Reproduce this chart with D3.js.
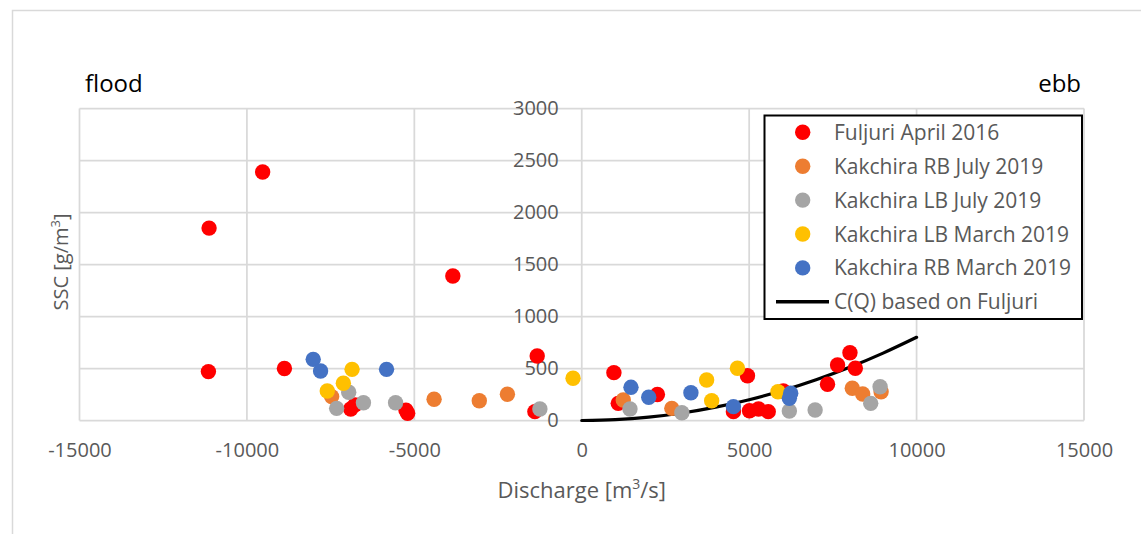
<!DOCTYPE html>
<html>
<head>
<meta charset="utf-8">
<script src="https://cdn.jsdelivr.net/npm/d3@7"></script>
<style>
  html, body { margin: 0; padding: 0; background: #fff; }
  svg { display: block; font-family: "Open Sans", "Noto Sans", sans-serif; }
</style>
</head>
<body>
<svg id="chart" width="1141" height="534"></svg>
<script>
// Discharge [m3/s] and SSC [g/m3] per campaign
const fuljuriQ   = [-11150, -11130, -9530, -8880, -6900, -6770, -5250, -5200, -3850, -1330, -1400, 960, 1090, 2260, 4530, 4950, 5010, 5280, 5570, 6020, 7340, 7640, 8010, 8170];
const fuljuriC   = [470, 1850, 2390, 500, 110, 150, 100, 70, 1390, 620, 85, 460, 165, 250, 85, 430, 94, 111, 85, 284, 348, 534, 652, 502];
const rbJulyQ    = [-7470, -4410, -3060, -2220, 1240, 2690, 8080, 8390, 8940];
const rbJulyC    = [230, 204, 190, 252, 197, 117, 310, 255, 277];
const lbJulyQ    = [-7320, -6960, -6520, -5560, -1250, 1440, 2990, 6200, 6970, 8630, 8910];
const lbJulyC    = [117, 271, 171, 171, 111, 111, 75, 91, 101, 165, 325];
const lbMarchQ   = [-7600, -7120, -6860, -260, 3730, 3880, 4650, 5860];
const lbMarchC   = [284, 358, 492, 406, 389, 190, 502, 277];
const rbMarchQ   = [-8020, -7800, -5830, 1470, 2000, 3260, 4530, 6240, 6200];
const rbMarchC   = [588, 476, 492, 319, 223, 267, 133, 262, 213];

// C(Q) rating curve based on Fuljuri
const curveQ = [0, 1000, 2000, 3000, 4000, 5000, 6000, 7000, 8000, 9000, 10000];
const curveC = [0, 8, 32, 72, 128, 200, 288, 392, 512, 648, 800];

// Axis ticks
const xTicks = [-15000, -10000, -5000, 0, 5000, 10000, 15000];
const yTicks = [0, 500, 1000, 1500, 2000, 2500, 3000];

const seriesNames  = ["Fuljuri April 2016", "Kakchira RB July 2019", "Kakchira LB July 2019", "Kakchira LB March 2019", "Kakchira RB March 2019"];
const seriesColors = ["#FF0000", "#ED7D31", "#A5A5A5", "#FFC000", "#4472C4"];
const curveName = "C(Q) based on Fuljuri";

const series = [
  [fuljuriQ, fuljuriC],
  [rbJulyQ, rbJulyC],
  [lbJulyQ, lbJulyC],
  [lbMarchQ, lbMarchC],
  [rbMarchQ, rbMarchC]
].map((s, i) => ({
  name: seriesNames[i],
  color: seriesColors[i],
  points: s[0].map((q, j) => ({ q, c: s[1][j] }))
}));

const svg = d3.select("#chart");
const x = d3.scaleLinear().domain([-15000, 15000]).range([79.5, 1084]);
const y = d3.scaleLinear().domain([0, 3000]).range([420.5, 108.5]);

const axisGrey = "#595959";
const gridGrey = "#d9d9d9";
// plain hyphen for negative numbers
const fmt = d => String(d);

// outer chart frame
svg.append("rect")
  .attr("x", 12.5).attr("y", 10.5)
  .attr("width", 1300).attr("height", 700)
  .attr("fill", "#fff").attr("stroke", gridGrey).attr("stroke-width", 1.5);

// gridlines
const grid = svg.append("g");
grid.selectAll("line.h").data(yTicks).join("line")
  .attr("x1", x(-15000)).attr("x2", x(15000))
  .attr("y1", d => y(d)).attr("y2", d => y(d))
  .attr("stroke", gridGrey).attr("stroke-width", 1.75);
grid.selectAll("line.v").data(xTicks).join("line")
  .attr("y1", y(0)).attr("y2", y(3000))
  .attr("x1", d => x(d)).attr("x2", d => x(d))
  .attr("stroke", gridGrey).attr("stroke-width", 1.75);

// x axis labels
const xAxis = d3.axisBottom(x).tickValues(xTicks).tickSize(0).tickPadding(0).tickFormat(fmt);
const gx = svg.append("g").attr("transform", `translate(0,${y(0) + 24})`).call(xAxis);
gx.select(".domain").remove();
gx.selectAll("text").attr("fill", axisGrey).attr("font-size", 20).attr("font-family", "Open Sans").attr("dy", "0.6em");

// y axis labels beside the zero discharge line
const yAxis = d3.axisLeft(y).tickValues(yTicks).tickSize(0).tickPadding(0).tickFormat(fmt);
const gy = svg.append("g").attr("transform", `translate(${x(0) - 23},0)`).call(yAxis);
gy.select(".domain").remove();
gy.selectAll("text").attr("fill", axisGrey).attr("font-size", 20).attr("font-family", "Open Sans");

// rating curve (drawn beneath the markers)
const line = d3.line().x(d => x(d.q)).y(d => y(d.c)).curve(d3.curveMonotoneX);
svg.append("path")
  .datum(curveQ.map((q, i) => ({ q, c: curveC[i] })))
  .attr("d", line)
  .attr("fill", "none").attr("stroke", "#000").attr("stroke-width", 3.2)
  .attr("stroke-linecap", "round");

// markers
series.forEach(s => {
  svg.append("g").selectAll("circle").data(s.points).join("circle")
    .attr("cx", d => x(d.q)).attr("cy", d => y(d.c)).attr("r", 7.7)
    .attr("fill", s.color);
});

// axis titles
svg.append("text")
  .attr("x", x(0)).attr("y", 498)
  .attr("text-anchor", "middle").attr("fill", axisGrey).attr("font-size", 22)
  .html('Discharge [m<tspan dy="-9" font-size="14">3</tspan><tspan dy="9">/s]</tspan>');

svg.append("text")
  .attr("transform", "translate(68,262) rotate(-90)")
  .attr("text-anchor", "middle").attr("fill", axisGrey).attr("font-size", 20)
  .html('SSC [g/m<tspan dy="-8" font-size="13">3</tspan><tspan dy="8">]</tspan>');

svg.append("text").attr("x", 85).attr("y", 92)
  .attr("fill", "#000").attr("font-size", 24).text("flood");
svg.append("text").attr("x", 1081).attr("y", 92).attr("text-anchor", "end")
  .attr("fill", "#000").attr("font-size", 24).text("ebb");

// legend
const legend = svg.append("g");
legend.append("rect")
  .attr("x", 764.5).attr("y", 115.5).attr("width", 317.5).attr("height", 203.5)
  .attr("fill", "#fff").attr("stroke", "#000").attr("stroke-width", 2);
const rowY = i => 132.3 + i * 33.9;
series.forEach((s, i) => {
  legend.append("circle").attr("cx", 802.7).attr("cy", rowY(i)).attr("r", 7.7).attr("fill", s.color);
  legend.append("text").attr("x", 834).attr("y", rowY(i)).attr("dy", "0.36em")
    .attr("fill", axisGrey).attr("font-size", 21).text(s.name);
});
legend.append("line")
  .attr("x1", 776).attr("x2", 829).attr("y1", rowY(5)).attr("y2", rowY(5))
  .attr("stroke", "#000").attr("stroke-width", 3.5);
legend.append("text").attr("x", 834).attr("y", rowY(5)).attr("dy", "0.36em")
  .attr("fill", axisGrey).attr("font-size", 21).text(curveName);
</script>
</body>
</html>
